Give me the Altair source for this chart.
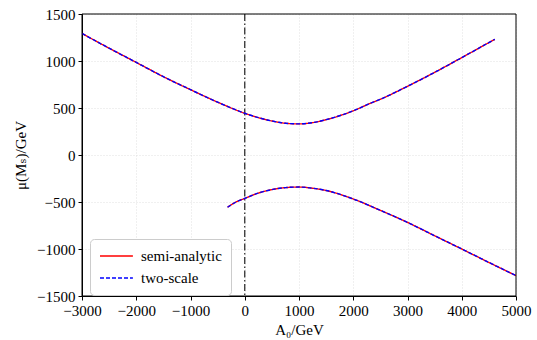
import altair as alt
import pandas as pd

# upper branch (mu > 0)
upper_a0 = [-3000, -2500, -2000, -1500, -1000, -500, 0, 250, 500, 750, 1000, 1250, 1500, 2000, 2300, 2500, 3000, 3500, 4000, 4500, 4610]
upper_mu = [1293, 1136, 985, 833, 695, 562, 444, 398, 362, 338, 331, 344, 376, 470, 546, 593, 731, 879, 1036, 1196, 1231]
# lower branch (mu < 0)
lower_a0 = [-317, -250, -150, 0, 250, 500, 750, 1000, 1250, 1500, 2000, 2500, 3000, 3500, 4000, 4500, 5000]
lower_mu = [-556, -530, -497, -462, -405, -368, -347, -341, -353, -378, -468, -589, -717, -859, -1000, -1143, -1283]

series_names = ["semi-analytic", "two-scale"]
series_colors = ["#ff0000", "#0000ff"]
series_dash = [[1, 0], [4, 2]]

x_ticks = [-3000, -2000, -1000, 0, 1000, 2000, 3000, 4000, 5000]
y_ticks = [-1500, -1000, -500, 0, 500, 1000, 1500]

rows = []
for s in series_names:
    for a, m in zip(upper_a0, upper_mu):
        rows.append({"A0": a, "mu": m, "series": s, "branch": "upper"})
    for a, m in zip(lower_a0, lower_mu):
        rows.append({"A0": a, "mu": m, "series": s, "branch": "lower"})
df = pd.DataFrame(rows)

FONT = "'Liberation Serif', 'Times New Roman', 'DejaVu Serif', serif"
W, H = 434, 282

xscale = alt.Scale(domain=[-3000, 5000], nice=False, zero=False)
yscale = alt.Scale(domain=[-1500, 1500], nice=False, zero=False)

color = alt.Color("series:N", scale=alt.Scale(domain=series_names, range=series_colors),
                  legend=alt.Legend(title=None, orient="none", legendX=8, legendY=225,
                                    symbolType="M-1,0H3.7", symbolSize=196, symbolStrokeWidth=1.3,
                                    labelFont=FONT, labelFontSize=15, labelColor="black",
                                    rowPadding=6, padding=9, labelOffset=26,
                                    strokeColor="#cccccc", fillColor="white", cornerRadius=4))
dash = alt.StrokeDash("series:N", scale=alt.Scale(domain=series_names, range=series_dash),
                      legend=None)

base = alt.Chart(df).mark_line(strokeWidth=1.4, interpolate="monotone", clip=True).encode(
    x=alt.X("A0:Q", scale=xscale,
            axis=alt.Axis(values=x_ticks, title="A₀/GeV", format="d",
                          labelOverlap=False, labelFlush=False)),
    y=alt.Y("mu:Q", scale=yscale,
            axis=alt.Axis(values=y_ticks, title="μ(Mₛ)/GeV", format="d",
                          labelOverlap=False, labelFlush=False)),
    color=color,
    strokeDash=dash,
    detail="branch:N",
)

red = base.transform_filter(alt.datum.series == "semi-analytic")
blue = base.transform_filter(alt.datum.series == "two-scale")

vline = alt.Chart(pd.DataFrame({"x": [0]})).mark_rule(
    color="#222222", strokeWidth=1.2, strokeDash=[7, 2.5, 1.5, 2.5]
).encode(x=alt.X("x:Q", scale=xscale))

frame = alt.Chart(pd.DataFrame({"f": [0]})).mark_rect(
    fill=None, stroke="black", strokeWidth=1
).encode(x=alt.value(0), x2=alt.value(W), y=alt.value(0), y2=alt.value(H))

chart = alt.layer(vline, red, blue, frame).properties(
    width=W, height=H,
    autosize="none",
    padding={"left": 82, "top": 14, "right": 21, "bottom": 44},
).configure_view(
    stroke=None
).configure_axis(
    labelFont=FONT, labelFontSize=15, labelColor="black",
    titleFont=FONT, titleFontSize=15, titleColor="black", titleFontWeight="normal",
    domainColor="black", tickColor="black", tickSize=4, labelPadding=3,
    grid=True, gridColor="#d9d9d9", gridDash=[1, 2], gridWidth=0.8,
).configure_axisY(
    titlePadding=8
).configure_axisX(
    titlePadding=4
)

chart.save("out.html", embed_options={"renderer": "svg", "actions": False})
